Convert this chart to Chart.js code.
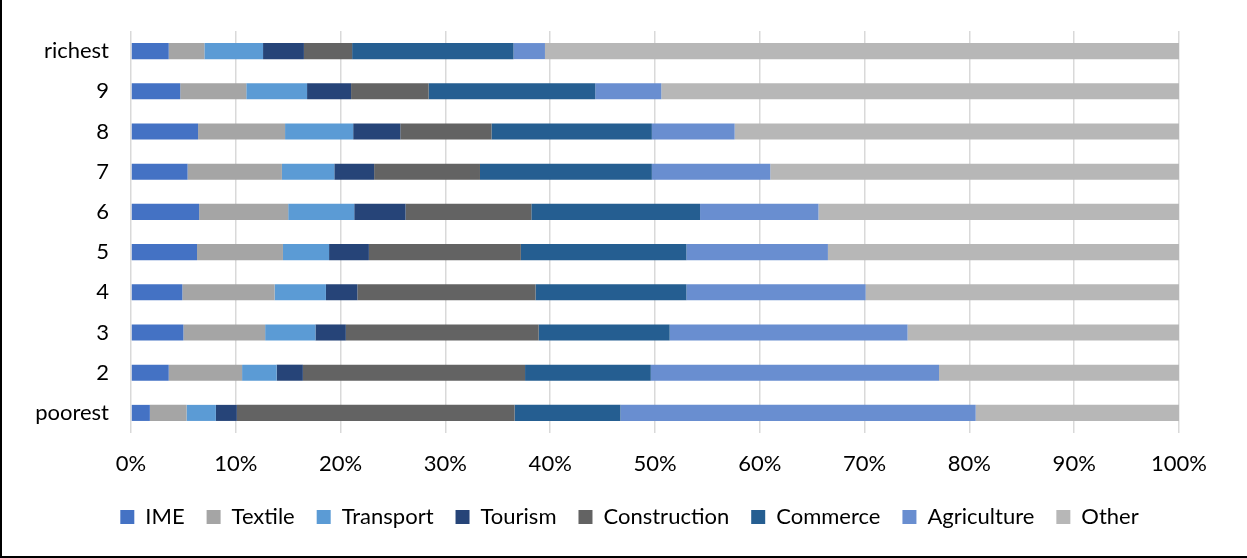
<!DOCTYPE html>
<html>
<head>
<meta charset="utf-8">
<script src="https://cdn.jsdelivr.net/npm/chart.js@4"></script>
<style>
  html, body { margin: 0; padding: 0; background: #fff; }
  #wrap {
    position: relative;
    width: 1247px;
    height: 558px;
    box-sizing: border-box;
    border-left: 2px solid #000;
    border-bottom: 2px solid #000;
  }
  canvas { display: block; }
</style>
</head>
<body>
<div id="wrap"><canvas id="chart" width="1245" height="556"></canvas></div>
<script>
// Categories, poorest at the bottom
const categories = ['poorest', '2', '3', '4', '5', '6', '7', '8', '9', 'richest'];

// Share of each sector (percent), same order as categories
const ime          = [1.8, 3.6, 5.0, 4.9, 6.3, 6.5, 5.4, 6.4, 4.7, 3.6];
const textile      = [3.5, 7.0, 7.8, 8.8, 8.2, 8.5, 9.0, 8.3, 6.3, 3.4];
const transport    = [2.8, 3.3, 4.8, 4.9, 4.4, 6.3, 5.0, 6.5, 5.8, 5.6];
const tourism      = [2.0, 2.5, 2.9, 3.0, 3.8, 4.9, 3.8, 4.5, 4.2, 3.9];
const construction = [26.5, 21.2, 18.4, 17.0, 14.5, 12.0, 10.1, 8.7, 7.4, 4.6];
const commerce     = [10.1, 12.0, 12.5, 14.4, 15.8, 16.1, 16.4, 15.3, 15.9, 15.4];
const agriculture  = [33.9, 27.5, 22.7, 17.1, 13.5, 11.3, 11.3, 7.9, 6.3, 3.0];
const other        = [19.4, 23.0, 25.9, 29.9, 33.5, 34.4, 39.0, 42.4, 49.4, 60.5];

const seriesNames = ['IME', 'Textile', 'Transport', 'Tourism', 'Construction', 'Commerce', 'Agriculture', 'Other'];
const seriesData = [ime, textile, transport, tourism, construction, commerce, agriculture, other];
const seriesColors = ['#4472C4', '#A5A5A5', '#5B9BD5', '#264478', '#636363', '#255E91', '#698ED0', '#B7B7B7'];

const xTicks = [0, 10, 20, 30, 40, 50, 60, 70, 80, 90, 100];

const FONT = 'Lato, "Open Sans", sans-serif';

const datasets = seriesNames.map((name, i) => ({
  label: name,
  data: seriesData[i],
  backgroundColor: seriesColors[i],
  borderWidth: 0,
  barPercentage: 0.4,
  categoryPercentage: 1.0
}));

// the legend is centred on the whole frame in the original, not on the padded area
const legendShift = {
  id: 'legendShift',
  afterLayout(chart) {
    const lg = chart.legend;
    if (!lg) return;
    lg.left += 39;
    lg.right += 39;
  }
};

new Chart(document.getElementById('chart'), {
  type: 'bar',
  data: { labels: categories, datasets: datasets },
  plugins: [legendShift],
  options: {
    indexAxis: 'y',
    responsive: false,
    animation: false,
    layout: { padding: { top: 31, right: 68, left: 0, bottom: 18 } },
    plugins: {
      legend: {
        position: 'bottom',
        labels: {
          boxWidth: 14,
          boxHeight: 14,
          padding: 22,
          color: '#000',
          font: { family: FONT, size: 22 }
        }
      },
      tooltip: { enabled: false }
    },
    scales: {
      x: {
        stacked: true,
        min: 0,
        max: 100,
        afterBuildTicks: (scale) => { scale.ticks = xTicks.map(v => ({ value: v })); },
        ticks: {
          color: '#000',
          padding: 18,
          font: { family: FONT, size: 22 },
          callback: (v) => v + '%'
        },
        grid: { color: '#D9D9D9', lineWidth: 1.5, drawTicks: false },
        border: { display: false },
        afterFit: (scale) => { scale.height = 51; }
      },
      y: {
        stacked: true,
        reverse: true,
        ticks: {
          color: '#000',
          padding: 22,
          font: { family: FONT, size: 22 }
        },
        grid: { display: false, drawTicks: false },
        border: { display: false },
        afterFit: (scale) => {
          scale.width = 129;
          scale.paddingTop = 0;
          scale.paddingBottom = 0;
        }
      }
    }
  }
});
</script>
</body>
</html>
